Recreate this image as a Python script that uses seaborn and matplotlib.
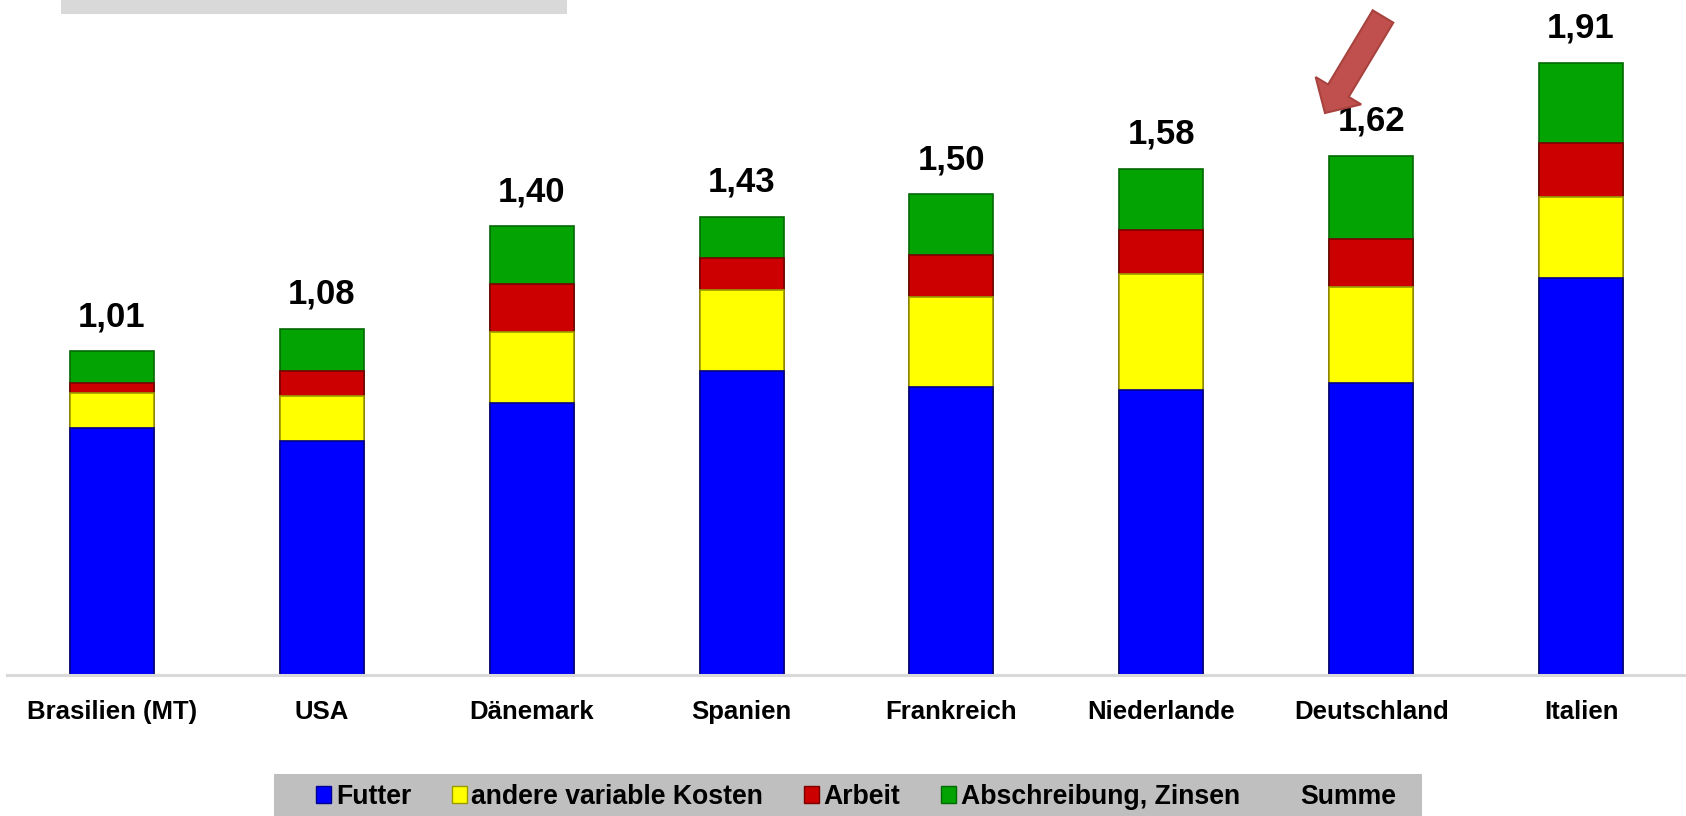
import matplotlib
matplotlib.use("Agg")
import matplotlib.pyplot as plt
import seaborn as sns
import numpy as np
import pandas as pd
from matplotlib.patches import Patch, Rectangle, FancyArrow

# ---- data ----
laender = ["Brasilien (MT)", "USA", "Dänemark", "Spanien", "Frankreich",
           "Niederlande", "Deutschland", "Italien"]
futter = [0.77, 0.73, 0.85, 0.95, 0.90, 0.89, 0.91, 1.24]
andere = [0.11, 0.14, 0.22, 0.25, 0.28, 0.36, 0.30, 0.25]
arbeit = [0.03, 0.08, 0.15, 0.10, 0.13, 0.14, 0.15, 0.17]
abschreibung = [0.10, 0.13, 0.18, 0.13, 0.19, 0.19, 0.26, 0.25]
summe = [1.01, 1.08, 1.40, 1.43, 1.50, 1.58, 1.62, 1.91]

serien = ["Futter", "andere variable Kosten", "Arbeit", "Abschreibung, Zinsen"]
farben = ["#0000FF", "#FFFF00", "#CC0000", "#03A303"]
kanten = ["#00008A", "#9A9A00", "#7A0000", "#026A02"]

sns.set_style("white")
plt.rcParams["font.family"] = ["Liberation Sans", "DejaVu Sans"]
plt.rcParams["text.color"] = "black"
plt.rcParams["xtick.color"] = "black"

W, H = 1686, 816
fig = plt.figure(figsize=(W / 100, H / 100), dpi=100)
ax = fig.add_axes([7 / W, 141 / H, 1 - 7 / W, 675 / H])
ax.patch.set_alpha(0)

df = pd.DataFrame({"Land": laender, "Futter": futter, "andere": andere,
                   "Arbeit": arbeit, "Abschreibung": abschreibung})
layers = [df["Futter"], df["andere"], df["Arbeit"], df["Abschreibung"]]
cum = np.cumsum(np.array(layers), axis=0)

# draw from top layer (total) down so that lower layers overlay
for k in range(3, -1, -1):
    sns.barplot(x=df["Land"], y=cum[k], order=laender, color=farben[k],
                saturation=1, width=0.4, edgecolor=kanten[k], linewidth=1.2,
                ax=ax)

for i, v in enumerate(summe):
    ax.annotate(f"{v:.2f}".replace(".", ","), (i, cum[3][i]),
                xytext=(0, 18), textcoords="offset points",
                ha="center", va="baseline", fontsize=25, fontweight="bold",
                color="black")

ax.set_xlim(-0.5, 7.5)
ax.set_ylim(0, 675 / 320.5)
ax.set_xlabel("")
ax.set_ylabel("")
ax.set_yticks([])
ax.tick_params(axis="x", length=0, pad=18, labelsize=18.5, labelcolor="black")
for lbl in ax.get_xticklabels():
    lbl.set_fontweight("bold")
for s in ["left", "top", "right"]:
    ax.spines[s].set_visible(False)
ax.spines["bottom"].set_color("#D9D9D9")
ax.spines["bottom"].set_linewidth(2.2)

# top-left grey box
fig.patches.append(Rectangle((61 / 100, (H - 14) / 100), 506 / 100, 0.16,
                             transform=fig.dpi_scale_trans, facecolor="#D9D9D9",
                             edgecolor="none", zorder=-2))
# legend grey band
fig.patches.append(Rectangle((274 / 100, 0), (1422 - 274) / 100, (H - 774) / 100,
                             transform=fig.dpi_scale_trans, facecolor="#BFBFBF",
                             edgecolor="none", zorder=-2))

# arrow
tail = (1383, 16.5)
tip = (1325, 113)
arrow = FancyArrow(tail[0] / 100, (H - tail[1]) / 100,
                   (tip[0] - tail[0]) / 100, -(tip[1] - tail[1]) / 100,
                   width=0.24, head_width=0.53, head_length=0.26,
                   length_includes_head=True, transform=fig.dpi_scale_trans,
                   facecolor="#C0504D", edgecolor="#A8423F", linewidth=1.5,
                   zorder=5)
fig.patches.append(arrow)

handles = [Patch(facecolor=farben[k], edgecolor=kanten[k], linewidth=1)
           for k in range(4)]
handles.append(Patch(facecolor="none", edgecolor="none"))
labels = serien + ["Summe"]
leg = ax.legend(handles, labels, loc="center", ncol=5,
                bbox_to_anchor=(856 / W, (H - 797) / H),
                bbox_transform=fig.transFigure, frameon=False,
                prop={"size": 19.2, "weight": "bold"},
                handlelength=0.57, handleheight=0.57, handletextpad=0.17,
                columnspacing=1.52, borderpad=0, borderaxespad=0)
leg.set_zorder(10)

fig.savefig("out.png", dpi=100)
